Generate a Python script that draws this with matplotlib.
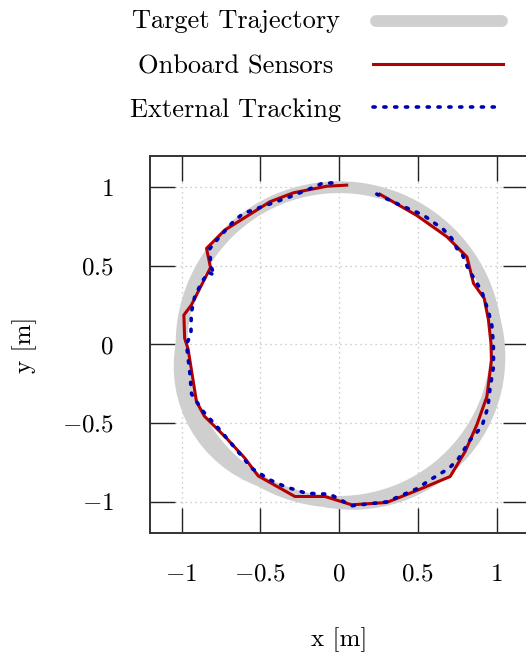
import matplotlib
matplotlib.use("Agg")
import matplotlib.pyplot as plt
import matplotlib.patches as mpatches
from matplotlib.lines import Line2D

plt.rcParams["font.family"] = "cmr10"
plt.rcParams["mathtext.fontset"] = "cm"
plt.rcParams["axes.formatter.use_mathtext"] = True

# target trajectory (gray band): one full circle plus two partial passes
# that bulge out at the lower left and lower right
target_cx = [0.0, -0.239, 0.0856]
target_cy = [0.0, -0.138, -0.0798]
target_r = [1.0, 0.773, 0.933]
target_theta1 = [0, 169.7, 259.3]
target_theta2 = [360, 250.3, 14.7]

# onboard sensors estimate
onboard_x = [0.26, 0.494, 0.685, 0.812, 0.854, 0.922, 0.949, 0.965, 0.968, 0.939,
             0.875, 0.801, 0.706, 0.504, 0.303, 0.081, -0.089, -0.28, -0.513, -0.6,
             -0.714, -0.855, -0.905, -0.958, -0.98, -0.985, -0.937, -0.816, -0.841,
             -0.725, -0.439, -0.29, -0.078, 0.049]
onboard_y = [0.955, 0.82, 0.685, 0.557, 0.389, 0.293, 0.156, 0.007, -0.1, -0.331,
             -0.511, -0.68, -0.839, -0.924, -1.004, -1.019, -0.966, -0.966, -0.835, -0.72,
             -0.596, -0.455, -0.363, -0.03, 0.04, 0.187, 0.251, 0.49, 0.611,
             0.727, 0.907, 0.964, 1.006, 1.013]

# external tracking
external_x = [0.24, 0.388, 0.536, 0.663, 0.716, 0.748, 0.78, 0.822, 0.864, 0.907,
              0.949, 0.97, 0.98, 0.981, 0.96, 0.945, 0.907, 0.833, 0.76, 0.70,
              0.579, 0.494, 0.303, 0.08, -0.057, -0.21, -0.343, -0.44, -0.555, -0.65,
              -0.756, -0.862, -0.936, -0.947, -0.968, -0.94, -0.938, -0.917, -0.875,
              -0.83, -0.79, -0.815, -0.82, -0.767, -0.672, -0.608, -0.46, -0.311,
              -0.184, -0.11, 0.005]
external_y = [0.956, 0.886, 0.822, 0.731, 0.674, 0.611, 0.579, 0.477, 0.41, 0.335,
              0.208, 0.124, 0.0, -0.141, -0.27, -0.4, -0.522, -0.606, -0.723, -0.786,
              -0.86, -0.917, -1.0, -1.025, -0.952, -0.945, -0.903, -0.86, -0.786, -0.67,
              -0.543, -0.426, -0.315, -0.183, 0.0, 0.07, 0.2, 0.3, 0.39,
              0.46, 0.44, 0.5, 0.61, 0.674, 0.78, 0.833, 0.886, 0.939,
              0.99, 1.023, 1.03]

ticks = [-1, -0.5, 0, 0.5, 1]
tick_labels = [r"$-1$", r"$-0.5$", r"$0$", r"$0.5$", r"$1$"]

GRAY = "#cfcfcf"
RED = "#b40000"
BLUE = "#0000b4"
FS = 18

fig = plt.figure(figsize=(5.26, 6.53), dpi=100, facecolor="white")
ax = fig.add_axes([150 / 526, 119.7 / 653, 378 / 526, 377.6 / 653])

for cx, cy, r, t1, t2 in zip(target_cx, target_cy, target_r, target_theta1, target_theta2):
    ax.add_patch(mpatches.Arc((cx, cy), 2 * r, 2 * r, theta1=t1, theta2=t2,
                              edgecolor=GRAY, lw=8.5, capstyle="round", zorder=2))
ax.plot(onboard_x, onboard_y, color=RED, lw=2.2, zorder=3)
ax.plot(external_x, external_y, color=BLUE, lw=2.6, linestyle=(0, (0.6, 2.4)),
        dash_capstyle="round", zorder=4)

ax.set_xlim(-1.2, 1.2)
ax.set_ylim(-1.2, 1.2)
ax.set_xticks(ticks)
ax.set_xticklabels(tick_labels)
ax.set_yticks(ticks)
ax.set_yticklabels(tick_labels)
ax.tick_params(direction="in", length=18, width=1.0, color="#222222",
               top=True, right=True, labelsize=FS)
ax.tick_params(axis="x", pad=22)
ax.tick_params(axis="y", pad=26)
ax.grid(True, linestyle=(0, (1, 3)), color="#bdbdbd", lw=0.9)
ax.set_axisbelow(True)
for s in ax.spines.values():
    s.set_linewidth(1.4)
    s.set_color("#333333")

ax.set_xlabel("x [m]", fontsize=FS, labelpad=30)
ax.set_ylabel("y [m]", fontsize=FS, labelpad=18)

# legend, drawn by hand (pgfplots style: text centred, sample on the right)
legend_items = [("Target Trajectory", dict(color=GRAY, lw=8.5, solid_capstyle="round")),
                ("Onboard Sensors", dict(color=RED, lw=2.2)),
                ("External Tracking", dict(color=BLUE, lw=2.6, linestyle=(0, (0.6, 2.4)),
                                           dash_capstyle="round"))]
text_base = [28, 73, 117]
line_y = [21, 64, 107]
for (label, style), tb, ly in zip(legend_items, text_base, line_y):
    fig.text(236 / 526, 1 - tb / 653, label, fontsize=19, ha="center", va="baseline")
    x0 = 376 if "solid_capstyle" in style else 373
    x1 = 502 if "solid_capstyle" in style else 503
    fig.add_artist(Line2D([x0 / 526, x1 / 526], [1 - ly / 653, 1 - ly / 653],
                          transform=fig.transFigure, **style))

fig.savefig("out.png", dpi=100, facecolor="white")
